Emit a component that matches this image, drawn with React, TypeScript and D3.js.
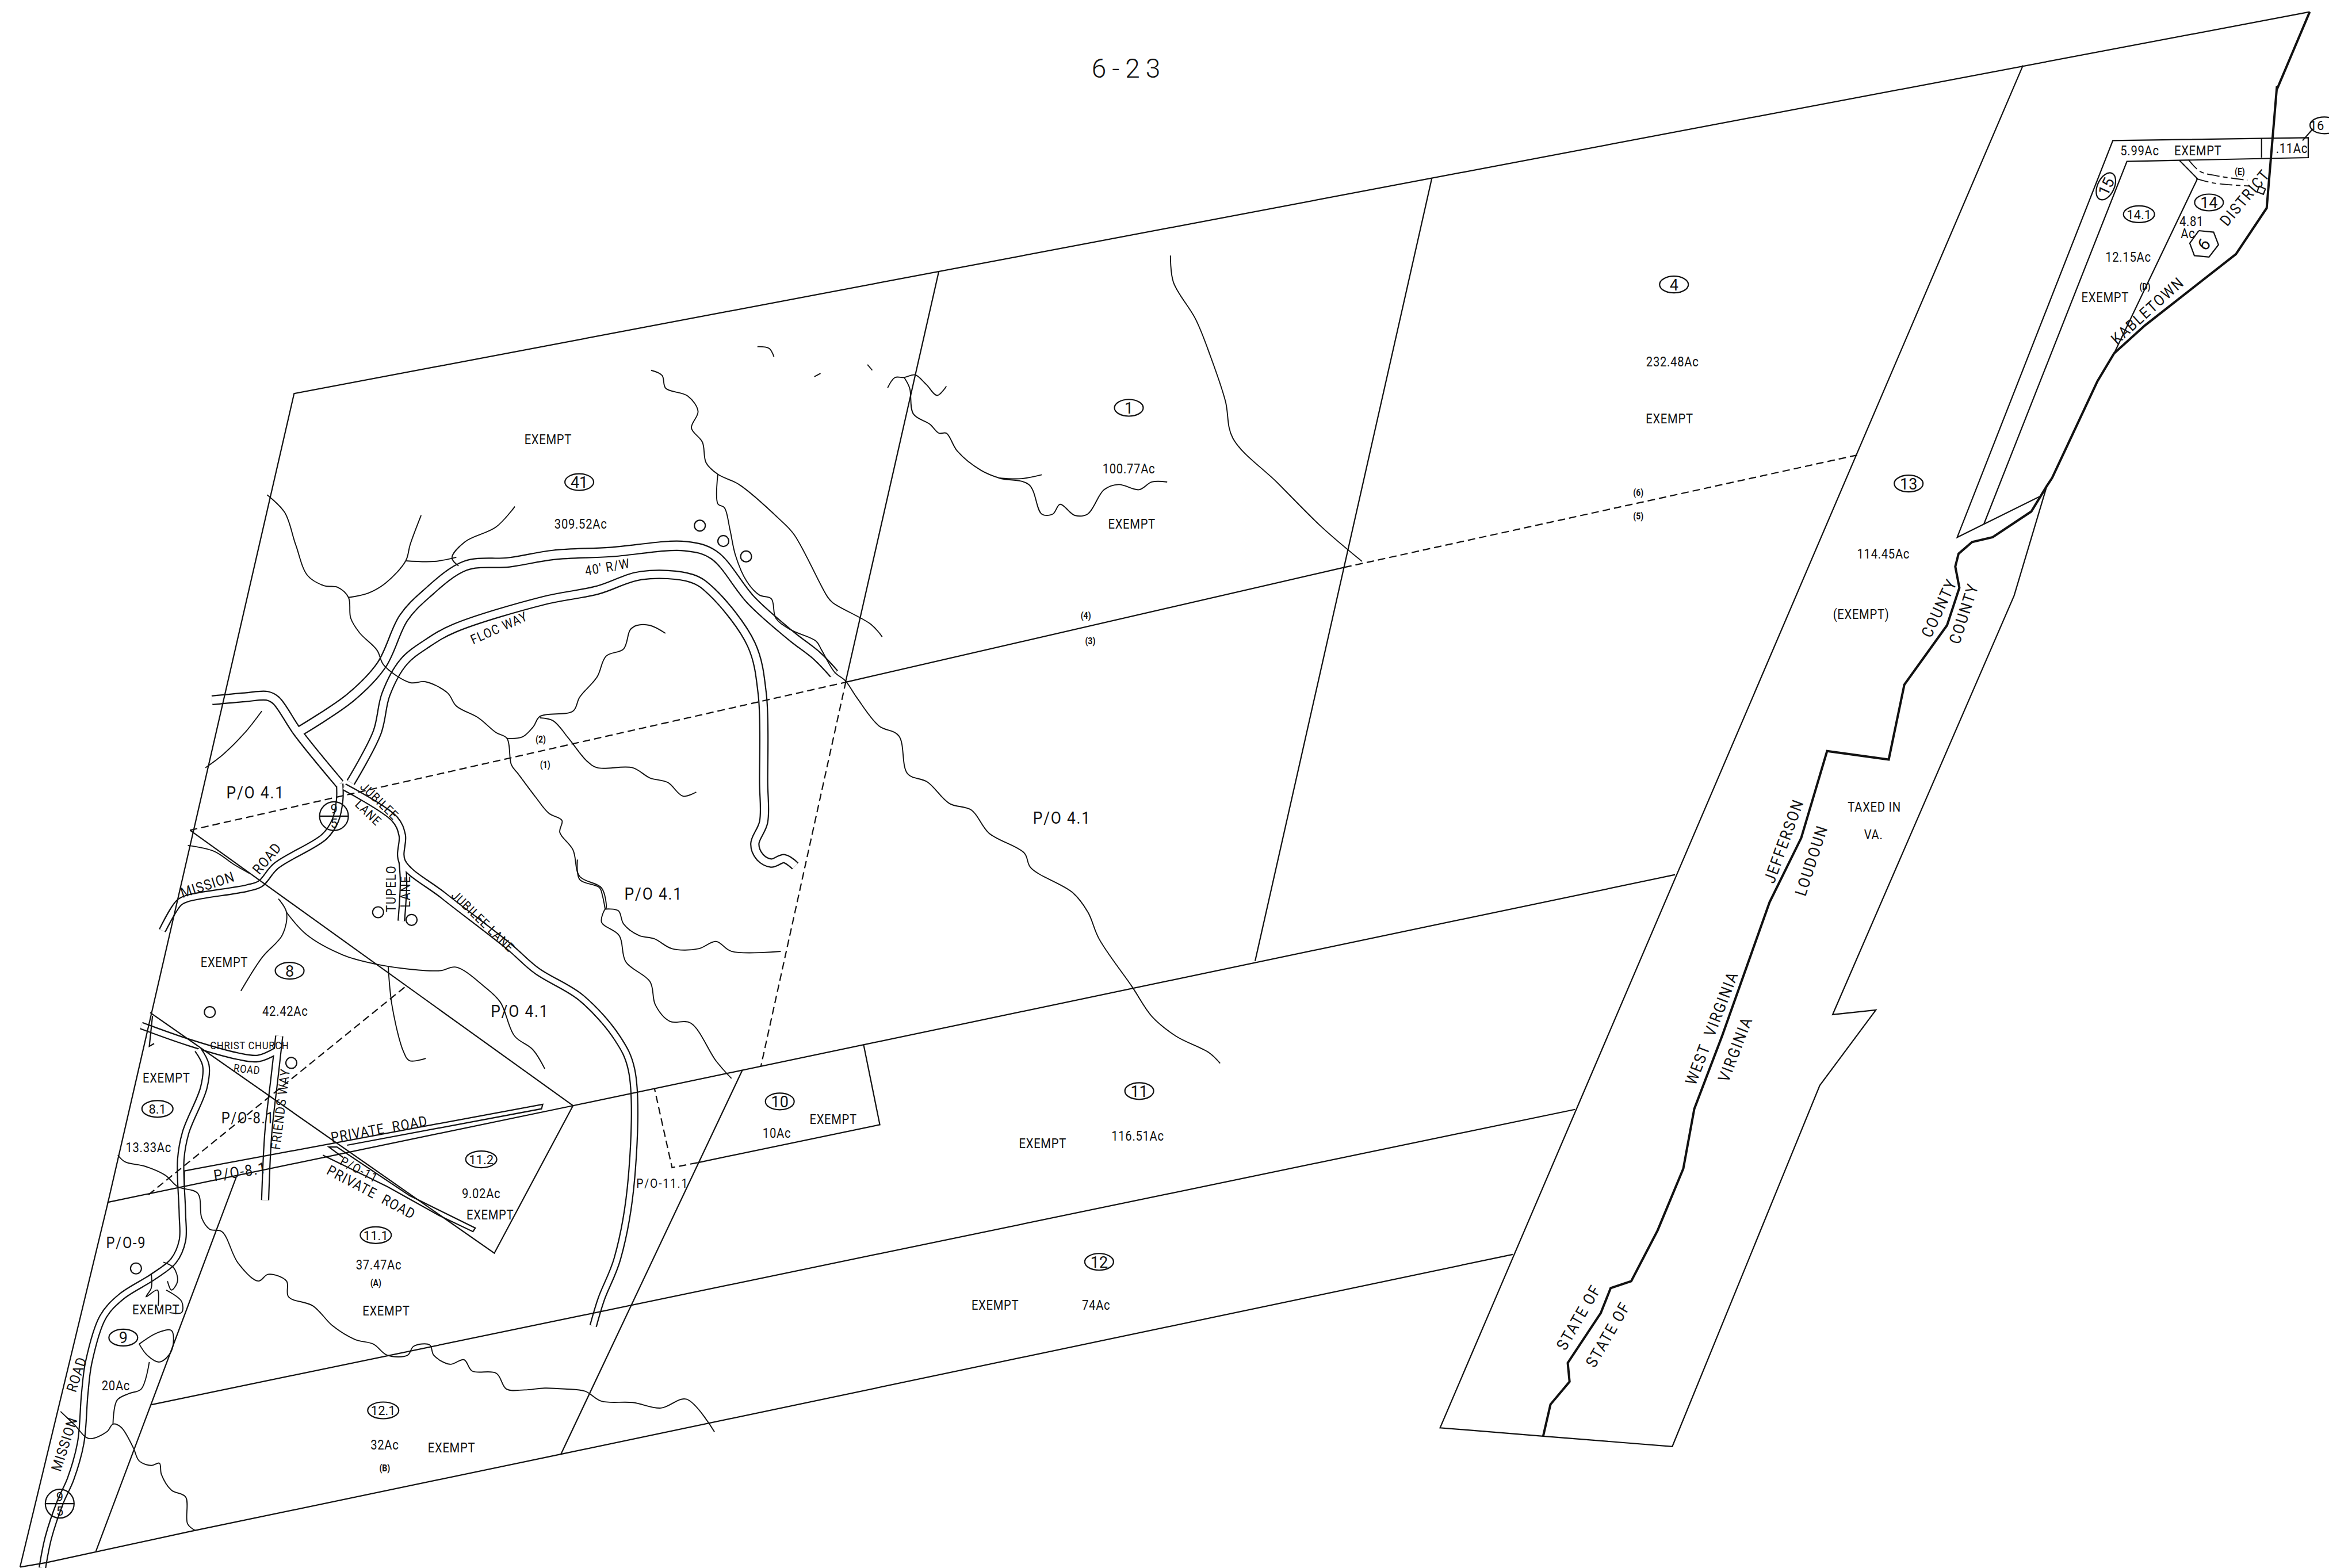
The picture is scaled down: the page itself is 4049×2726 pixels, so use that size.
import React from "react";
import * as d3 from "d3";

type Pt = [number, number];
type FrameName = "O" | "A" | "B" | "C" | "D" | "E" | "F" | "G";
type Piece = [FrameName, Pt[]];
type Label = [string, FrameName, number, number, number, number];
type Mark = [FrameName, number, number];
type Oval = [string, FrameName, number, number, number];

const W = 4049;
const H = 2726;
const INK = "#111";
const FONT = "Roboto, 'Liberation Sans', sans-serif";

// Each frame is a window of the sheet, in which coordinates were read
const frameExtents: Record<FrameName, [number, number, number, number]> = {
  O: [0, 4049, 0, 2726],
  A: [0, 1100, 1500, 2726],
  B: [250, 1450, 850, 1650],
  C: [3350, 4049, 150, 950],
  D: [1100, 2100, 550, 1250],
  E: [2480, 3600, 800, 1800],
  F: [2480, 3480, 1700, 2550],
  G: [1000, 2200, 1150, 2050],
};
const frameDomainY = (f: FrameName): [number, number] => (f === "O" ? [0, 1055.7] : [0, 1568]);
const sx = (f: FrameName) => d3.scaleLinear().domain([0, 1568]).range(frameExtents[f].slice(0, 2) as Pt);
const sy = (f: FrameName) => d3.scaleLinear().domain(frameDomainY(f)).range(frameExtents[f].slice(2, 4) as Pt);
const project = (f: FrameName, p: Pt): Pt => [sx(f)(p[0]), sy(f)(p[1])];
const joined = (pieces: Piece[]): Pt[] => pieces.flatMap(([f, pts]) => pts.map((p) => project(f, p)));

// ---------- parcel boundaries ----------
const parcelLines: Piece[][] = [
  [["O", [[1555, 8], [198, 265], [72.6, 810], [13.5, 1055]]]],
  [["A", [[266, 755], [1420, 540]]], ["E", [[605, 1130]]]],
  [["A", [[375, 1205]]], ["F", [[405, 422]]]],
  [["A", [[50, 1566], [115, 1556], [470, 1487], [1390, 1315]]], ["F", [[235, 887]]]],
  [["O", [[632, 183]]], ["D", [[580, 1425]]]],
  [["O", [[964, 120], [845, 647]]]],
  [["O", [[1362, 44]]], ["F", [[37, 1443], [318, 1470], [670, 1503], [1072, 345], [1225, 103], [1107, 118]]], ["E", [[1430, 370], [1510, 70]]]],
  [["A", [[372, 333], [1225, 868], [1420, 540]]]],
  [["B", [[105, 1163]]], ["A", [[1420, 540]]]],
  [["D", [[580, 1425]]], ["O", [[905, 382]]]],
  [["G", [[655, 1160], [692, 1403], [278, 1518]]]],
  [["G", [[380, 1237]]], ["A", [[1390, 1315]]]],
  [["A", [[585, 700], [238, 1530]]]],
  [["A", [[457, 720], [457, 685], [1345, 537], [1342, 547], [860, 628]]]],
  [["A", [[800, 650], [960, 720], [1090, 785], [1172, 820], [1178, 812], [1015, 740], [835, 632], [815, 632], [850, 655]]]],
  [["C", [[222, 1492], [780, 256], [1487, 243], [1487, 175], [725, 185], [118, 1537], [222, 1492], [442, 1397], [470, 1360]]]],
  [["C", [[1305, 178], [1305, 243]]]],
  [["C", [[985, 253], [1055, 315], [730, 910]]]],
  [["C", [[1465, 185], [1505, 145]]]],
  [["C", [[1295, 340], [1320, 350], [1312, 368], [1288, 360], [1295, 340]]]],
  [["A", [[378, 340], [370, 408], [382, 402]]]],
];

const dashedLines: Piece[][] = [
  [["B", [[105, 1163]]], ["D", [[580, 1425]]]],
  [["O", [[905, 382], [1252, 306]]]],
  [["G", [[615, 60], [422, 1225]]]],
  [["G", [[278, 1518], [220, 1533], [180, 1293]]]],
  [["A", [[368, 738], [1005, 275]]]],
];

const stateLine: Piece[] = [
  ["F", [[318, 1470], [338, 1368], [390, 1295], [385, 1235], [475, 1075], [502, 995], [558, 973], [630, 810], [700, 612], [730, 420]]],
  ["E", [[720, 1568], [835, 1205], [912, 1030], [975, 793], [1125, 816], [1163, 612], [1267, 450], [1297, 348], [1287, 290], [1295, 255], [1328, 223], [1378, 210], [1472, 140], [1510, 70]]],
  ["C", [[488, 1335], [665, 1005], [730, 910], [850, 815], [1205, 572], [1325, 415], [1365, 0]]],
  ["O", [[1533, 60], [1555, 8]]],
];

// ---------- streams ----------
const streams: Piece[][] = [
  [["B", [[280, 20], [320, 80], [345, 190], [372, 295], [410, 330], [440, 335], [465, 370], [470, 440], [490, 490], [530, 550], [545, 600], [605, 660], [640, 657], [690, 695], [710, 740], [760, 780], [800, 830], [825, 850], [835, 940], [850, 970], [890, 1050], [920, 1105], [950, 1130], [945, 1170], [975, 1230], [990, 1320], [1040, 1360], [1050, 1430]]], ["G", [[68, 750], [60, 790], [100, 830], [115, 910], [170, 970], [182, 1040], [215, 1090], [262, 1095], [320, 1210], [355, 1263]]]],
  [["G", [[68, 750], [98, 755], [110, 795], [145, 830], [180, 840], [220, 870], [280, 870], [320, 848], [355, 878], [467, 878]]]],
  [["B", [[825, 850], [860, 845], [885, 810], [900, 775], [975, 757], [990, 710], [1030, 640], [1050, 570], [1090, 545], [1105, 480], [1120, 465], [1150, 465], [1185, 492]]]],
  [["B", [[900, 780], [930, 790], [965, 850], [1005, 925], [1030, 950], [1110, 950], [1150, 985], [1190, 1000], [1225, 1047], [1255, 1033]]]],
  [["B", [[630, 90], [605, 190], [595, 245], [550, 320], [510, 355], [465, 370]]]],
  [["B", [[843, 60], [800, 130], [730, 180], [700, 235], [715, 262]]]],
  [["B", [[595, 245], [660, 247], [710, 233]]]],
  [["B", [[268, 757], [230, 830], [180, 905], [140, 950]]]],
  [["B", [[100, 1215], [160, 1235], [205, 1280], [240, 1310]]]],
  [["A", [[690, 80], [710, 110], [700, 160], [650, 210], [597, 285]]]],
  [["A", [[710, 110], [760, 160], [850, 205], [930, 225], [1000, 235], [1090, 240], [1130, 232], [1200, 275], [1240, 310], [1275, 385], [1320, 415], [1350, 458]]]],
  [["A", [[962, 230], [972, 320], [1000, 420], [1015, 440], [1055, 435]]]],
  [["A", [[292, 650], [310, 665], [360, 675], [410, 695], [440, 720], [490, 735], [500, 790], [520, 815], [550, 820], [590, 890], [640, 930], [665, 915], [710, 930], [715, 965], [775, 985], [825, 1030], [880, 1060], [925, 1070], [960, 1095], [1010, 1095], [1025, 1075], [1065, 1072], [1075, 1095], [1115, 1115], [1150, 1105], [1170, 1130], [1230, 1135], [1255, 1170], [1300, 1172], [1350, 1168], [1400, 1170], [1450, 1175], [1490, 1197], [1568, 1200]]], ["O", [[445, 948], [462, 942], [481, 964]]]],
  [["A", [[150, 1220], [185, 1250], [220, 1280], [265, 1265], [280, 1248], [300, 1255], [330, 1300], [345, 1330], [375, 1340], [395, 1335], [400, 1360], [425, 1395], [460, 1410], [465, 1470], [485, 1485]]]],
  [["A", [[280, 1248], [290, 1195], [320, 1180], [350, 1170], [370, 1110]]]],
  [["A", [[345, 1070], [390, 1045], [425, 1040], [425, 1085], [395, 1110], [365, 1095], [345, 1070]]]],
  [["A", [[375, 915], [375, 945], [362, 965], [390, 950], [392, 985]]]],
  [["A", [[405, 888], [430, 900], [440, 930], [425, 950], [415, 930]]]],
  [["A", [[412, 950], [450, 975], [450, 1000], [420, 1000]]]],
  [["D", [[50, 210], [80, 230], [90, 280], [150, 310], [178, 370], [160, 435], [190, 490], [200, 570], [232, 615], [290, 655], [400, 790], [440, 850], [530, 1090], [545, 1115], [650, 1200], [680, 1248]]]],
  [["D", [[232, 615], [232, 730], [250, 745], [265, 830], [280, 930], [310, 1030], [345, 1085], [378, 1100], [390, 1175], [430, 1220], [500, 1265], [515, 1300], [550, 1385], [580, 1420]]], ["G", [[640, 110], [690, 195], [735, 225], [755, 340], [800, 365], [850, 430], [900, 450], [940, 520], [1020, 580], [1035, 625], [1130, 700], [1165, 760], [1190, 840], [1265, 985], [1310, 1075], [1365, 1135], [1440, 1185], [1465, 1217]]]],
  [["D", [[695, 278], [715, 238], [740, 238], [770, 228], [800, 265], [830, 308], [855, 272]]]],
  [["D", [[740, 238], [755, 280], [765, 380], [810, 420], [835, 455], [855, 455], [885, 525], [950, 600], [1000, 630], [1080, 655], [1115, 770], [1145, 770], [1165, 732], [1205, 775], [1240, 770], [1285, 675], [1325, 655], [1380, 675], [1415, 645], [1457, 645]]]],
  [["D", [[1000, 630], [1060, 632], [1115, 617]]]],
  [["D", [[340, 118], [372, 125], [385, 158]]]],
  [["D", [[495, 235], [512, 222]]]],
  [["D", [[640, 188], [653, 210]]]],
  [["O", [[788, 172], [790, 190], [805, 215], [815, 240], [825, 270], [830, 295], [860, 325], [890, 355], [917, 378]]]],
  [["G", [[68, 750], [62, 710], [55, 685], [10, 660], [5, 600]]]],
];

// ---------- roads, drawn as double lines: [width, centre line] ----------
const roadWidths: number[] = [9, 9, 10, 9, 13, 14, 12, 9, 9];
const roads: Piece[][] = [
  [["A", [[105, 1568], [120, 1500], [150, 1420], [175, 1370], [200, 1290], [210, 1180], [220, 1110], [255, 1010], [300, 965], [380, 920], [430, 885], [452, 840], [452, 780], [448, 660], [460, 600], [505, 500], [510, 450], [490, 415]]]],
  [["A", [[350, 362], [470, 400], [590, 430], [640, 435], [685, 418]]]],
  [["A", [[692, 385], [680, 480], [665, 600], [657, 750]]]],
  [["B", [[42, 1505], [80, 1410], [100, 1395], [235, 1360], [265, 1345], [300, 1285], [410, 1185], [435, 1130], [445, 1060], [445, 1005]]]],
  [["B", [[445, 1005], [350, 830], [300, 720], [280, 705], [230, 710], [155, 720]]]],
  [["B", [[355, 825], [470, 710], [540, 600], [590, 440], [640, 360], [730, 262], [830, 250], [930, 225], [1060, 215], [1230, 195], [1295, 225], [1380, 380], [1470, 500], [1530, 570], [1568, 630]]]],
  [["B", [[470, 1000], [530, 830], [550, 700], [590, 590], [645, 525], [705, 475], [910, 380], [1030, 345], [1130, 295], [1245, 305], [1290, 350], [1380, 530], [1405, 700], [1408, 1000], [1408, 1135], [1388, 1210], [1400, 1255], [1425, 1275], [1455, 1260], [1480, 1285]]]],
  [["B", [[455, 1015], [570, 1125], [587, 1180], [587, 1270], [680, 1385], [830, 1560]]], ["A", [[1330, 240], [1440, 300], [1530, 390], [1565, 460], [1565, 700], [1530, 880], [1490, 970], [1470, 1030]]]],
  [["B", [[587, 1270], [590, 1340], [585, 1472]]]],
];
const whiteDashed: Piece[][] = [
  [["C", [[1020, 250], [1065, 290], [1130, 305], [1250, 320]]]],
  [["C", [[1050, 315], [1120, 330], [1260, 340]]]],
];

// ---------- symbols ----------
const wells: Mark[] = [
  ["A", 520, 332], ["A", 337, 902], ["A", 722, 445], ["A", 937, 110], ["A", 1020, 127],
  ["D", 183, 815], ["D", 247, 875], ["D", 309, 935],
];
const routeSigns: Mark[] = [["A", 148, 1425], ["B", 432, 1115]];
const hexagon: Piece = ["C", [[1060, 492], [1118, 497], [1137, 540], [1100, 582], [1043, 577], [1025, 535], [1060, 492]]];

const ovals: Oval[] = [
  ["41", "O", 390, 324, 0], ["8", "O", 195, 653, 0], ["8.1", "O", 106, 746, 0], ["11.2", "O", 324, 780, 0],
  ["11.1", "O", 253, 831, 0], ["9", "O", 83, 900, 0], ["12.1", "O", 258, 949, 0], ["10", "O", 525, 741, 0],
  ["11", "O", 767, 734, 0], ["12", "O", 740, 849, 0], ["1", "O", 760, 274, 0], ["4", "O", 1127, 191, 0],
  ["13", "O", 1285, 325, 0], ["15", "C", 698, 338, -65], ["14.1", "C", 827, 433, 0], ["14", "C", 1100, 393, 0],
  ["16", "C", 1550, 130, 0],
];

// ---------- texts: [text, frame, x, y, rotation, font size] ----------
const areaLabels: Label[] = [
  ["EXEMPT", "O", 369, 295, 0, 23], ["309.52Ac", "O", 391, 352, 0, 23], ["42.42Ac", "O", 192, 680, 0, 23],
  ["EXEMPT", "O", 151, 647, 0, 23], ["EXEMPT", "O", 112, 725, 0, 23], ["13.33Ac", "O", 100, 772, 0, 23],
  ["9.02Ac", "O", 324, 803, 0, 23], ["EXEMPT", "O", 330, 817, 0, 23], ["37.47Ac", "O", 255, 851, 0, 23],
  ["EXEMPT", "O", 260, 882, 0, 23], ["EXEMPT", "O", 105, 881, 0, 23], ["20Ac", "O", 78, 932, 0, 23],
  ["EXEMPT", "O", 561, 753, 0, 23], ["10Ac", "O", 523, 762, 0, 23], ["EXEMPT", "O", 702, 769, 0, 23],
  ["116.51Ac", "O", 766, 764, 0, 23], ["EXEMPT", "O", 670, 878, 0, 23], ["74Ac", "O", 738, 878, 0, 23],
  ["32Ac", "O", 259, 972, 0, 23], ["EXEMPT", "O", 304, 974, 0, 23], ["100.77Ac", "O", 760, 315, 0, 23],
  ["EXEMPT", "O", 762, 352, 0, 23], ["232.48Ac", "O", 1126, 243, 0, 23], ["EXEMPT", "O", 1124, 281, 0, 23],
  ["114.45Ac", "O", 1268, 372, 0, 23], ["(EXEMPT)", "O", 1253, 413, 0, 23], ["TAXED IN", "E", 1090, 942, 0, 23],
  ["VA.", "E", 1088, 1017, 0, 23], ["5.99Ac", "C", 830, 216, 0, 23], ["EXEMPT", "C", 1057, 216, 0, 23],
  [".11Ac", "C", 1423, 207, 0, 23], ["12.15Ac", "C", 785, 578, 0, 23], ["EXEMPT", "C", 695, 715, 0, 23],
  ["4.81", "C", 1032, 456, 0, 23], ["Ac", "C", 1018, 497, 0, 23], ["CHRIST CHURCH", "O", 168, 703, 0, 19],
  ["ROAD", "A", 612, 456, 6, 19],
];
const tinyLabels: Label[] = [
  ["(2)", "O", 364, 497, 0, 16], ["(1)", "O", 367, 514, 0, 16], ["(A)", "O", 253, 863, 0, 16], ["(B)", "O", 259, 988, 0, 16],
  ["(4)", "O", 731, 414, 0, 16], ["(3)", "O", 734, 431, 0, 16], ["(6)", "O", 1103, 331, 0, 16], ["(5)", "O", 1103, 347, 0, 16],
  ["(D)", "C", 850, 680, 0, 16], ["(E)", "C", 1220, 288, 0, 16],
];
const partLabels: Label[] = [
  ["P/O 4.1", "O", 172, 533, 0, 30], ["P/O 4.1", "O", 440, 601, 0, 30], ["P/O 4.1", "O", 350, 680, 0, 30],
  ["P/O 4.1", "O", 715, 550, 0, 30], ["P/O-8.1", "O", 167, 752, 0, 27], ["P/O-8.1", "A", 595, 684, -9, 27],
  ["P/O-9", "O", 85, 836, 0, 27], ["P/O-11.1", "O", 446, 796, 0, 22], ["P/O-11", "A", 890, 680, 28, 22],
];
const roadLabels: Label[] = [
  ["40' R/W", "O", 409, 381, -10, 23], ["FLOC WAY", "O", 336, 422, -24, 23], ["MISSION", "B", 145, 1345, -18, 25],
  ["ROAD", "B", 280, 1255, -50, 25], ["JUBILEE", "B", 535, 1060, 44, 22], ["LANE", "B", 510, 1100, 44, 22],
  ["JUBILEE LANE", "B", 770, 1470, 44, 22], ["TUPELO", "B", 562, 1358, -90, 23], ["LANE", "B", 595, 1368, -90, 23],
  ["PRIVATE  ROAD", "A", 940, 590, -10, 25], ["PRIVATE  ROAD", "A", 920, 730, 28, 25], ["FRIENDS WAY", "A", 695, 545, -83, 23],
  ["ROAD", "A", 190, 1135, -72, 25], ["MISSION", "A", 160, 1290, -72, 25],
];
const boundaryLabels: Label[] = [
  ["COUNTY", "E", 1248, 400, -65, 28], ["COUNTY", "E", 1308, 415, -72, 28], ["JEFFERSON", "E", 870, 1035, -70, 28],
  ["LOUDOUN", "E", 937, 1088, -72, 28], ["WEST  VIRGINIA", "F", 778, 157, -69, 28], ["VIRGINIA", "F", 842, 225, -69, 28],
  ["STATE OF", "F", 415, 1085, -60, 28], ["STATE OF", "F", 495, 1140, -60, 28],
  ["KABLETOWN", "C", 860, 760, -42, 27], ["DISTRICT", "C", 1240, 375, -50, 27],
];
const sheetTitle = "6-23";

const pathOf = (pts: Pt[], smooth: boolean) =>
  (smooth ? d3.line().curve(d3.curveCatmullRom.alpha(0.5)) : d3.line())(pts) ?? "";

const narrow = 0.88;

function Labels({ items, weight = 400, spacing = 0 }: { items: Label[]; weight?: number; spacing?: number }) {
  return (
    <g fill={INK} fontFamily={FONT} fontWeight={weight} textAnchor="middle" dominantBaseline="central" letterSpacing={spacing}>
      {items.map(([t, f, x, y, r, s], i) => {
        const [px, py] = project(f, [x, y]);
        return (
          <text key={i} fontSize={s} transform={`translate(${px},${py + 2}) rotate(${r}) scale(${narrow},1)`} xmlSpace="preserve">
            {t}
          </text>
        );
      })}
    </g>
  );
}

export default function App() {
  const roadPaths = roads.map((r) => pathOf(joined(r), true));
  const [ox, oy] = project("O", [760, 46]);
  const [hx, hy] = project("C", [1080, 538]);
  return (
    <svg width={W} height={H} viewBox={`0 0 ${W} ${H}`} style={{ position: "absolute", left: 0, top: 0, background: "#fff" }}>
      <rect width={W} height={H} fill="#fff" />
      <g fill="none" strokeLinejoin="round">
        {roadPaths.map((d, i) => (
          <path key={i} d={d} stroke={INK} strokeWidth={roadWidths[i] + 4.4} />
        ))}
        {roadPaths.map((d, i) => (
          <path key={i} d={d} stroke="#fff" strokeWidth={roadWidths[i]} />
        ))}
      </g>
      <g fill="none" stroke={INK} strokeWidth={2.2} strokeLinejoin="miter">
        {streams.map((s, i) => (
          <path key={i} d={pathOf(joined(s), true)} strokeWidth={1.9} />
        ))}
        {parcelLines.map((s, i) => (
          <path key={i} d={pathOf(joined(s), false)} />
        ))}
        {dashedLines.map((s, i) => (
          <path key={i} d={pathOf(joined(s), false)} strokeDasharray="13 7" />
        ))}
        <path d={pathOf(joined(stateLine), false)} strokeWidth={4} />
        {whiteDashed.map((s, i) => (
          <path key={i} d={pathOf(joined(s), true)} strokeDasharray="22 6 8 6" strokeWidth={1.9} />
        ))}
        <path d={pathOf(joined([hexagon]), false)} />
        {wells.map(([f, x, y], i) => {
          const [px, py] = project(f, [x, y]);
          return <circle key={i} cx={px} cy={py} r={9.5} />;
        })}
      </g>
      <g fill="none" stroke={INK} strokeWidth={2.2}>
        {routeSigns.map(([f, x, y], i) => {
          const [px, py] = project(f, [x, y]);
          return (
            <g key={i}>
              <circle cx={px} cy={py} r={25} />
              <line x1={px - 25} x2={px + 25} y1={py} y2={py} />
              <text x={px} y={py - 12} fontSize={22} fill={INK} stroke="none" textAnchor="middle" dominantBaseline="central" fontFamily={FONT}>9</text>
              <text x={px} y={py + 13} fontSize={22} fill={INK} stroke="none" textAnchor="middle" dominantBaseline="central" fontFamily={FONT}>5</text>
            </g>
          );
        })}
      </g>
      <g>
        {ovals.map(([t, f, x, y, r], i) => {
          const [px, py] = project(f, [x, y]);
          return (
            <g key={i} transform={`translate(${px},${py + 1.5}) rotate(${r})`}>
              <ellipse rx={t.length > 2 ? 27 : 25} ry={14.5} fill="none" stroke={INK} strokeWidth={2.2} />
              <text x={t === "16" ? -13 : 0} y={1} fontSize={t === "16" ? 22 : t.length > 2 ? 22 : 27} fill={INK} textAnchor="middle" dominantBaseline="central" fontFamily={FONT}>
                {t}
              </text>
            </g>
          );
        })}
        <text transform={`translate(${hx},${hy}) rotate(-50)`} fontSize={30} fill={INK} textAnchor="middle" dominantBaseline="central" fontFamily={FONT}>
          6
        </text>
      </g>
      <Labels items={areaLabels} spacing={0.8} />
      <Labels items={tinyLabels} weight={700} />
      <Labels items={partLabels} spacing={2} />
      <Labels items={roadLabels} spacing={1.5} />
      <Labels items={boundaryLabels} spacing={2.5} />
      <text x={ox} y={oy} fontSize={46} fill={INK} textAnchor="middle" dominantBaseline="central" fontFamily={FONT} fontWeight={300} letterSpacing={10}>
        {sheetTitle}
      </text>
    </svg>
  );
}
